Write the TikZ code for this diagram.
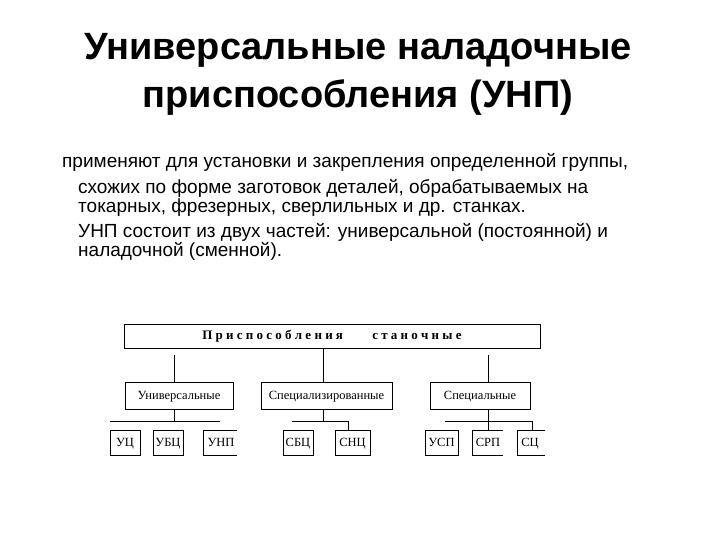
\documentclass[tikz,border=0pt]{standalone}
\usepackage{fontspec}
\setmainfont{Liberation Serif}
\newfontfamily\arial{Liberation Sans}
\begin{document}
\begin{tikzpicture}[x=1pt,y=-1pt,
 bx/.style={draw,line width=0.8pt},
 ln/.style={line width=0.8pt},
 lbl/.style={font=\fontsize{12.5}{14}\selectfont,text height=9pt,text depth=2pt,inner sep=0},
 body/.style={anchor=west,inner sep=0,font=\arial\fontsize{19}{20}\selectfont}]
\useasboundingbox (0,0) rectangle (720,540);
\node[font=\arial\bfseries\fontsize{38}{40}\selectfont] (t1) at (358,50) {Универсальные наладочные};
\node[font=\arial\bfseries\fontsize{38}{40}\selectfont] (t2) at (358,98) {приспособления (УНП)};
\node[body] (b1) at (62,162) {применяют для установки и закрепления определенной группы,};
\node[body] (b2) at (78,188) {схожих по форме заготовок деталей, обрабатываемых на};
\node[body] (b3) at (78,208) {токарных, фрезерных, сверлильных и др. станках.};
\node[body] (b4) at (78,232) {УНП состоит из двух частей: универсальной (постоянной) и};
\node[body] (b5) at (78,251) {наладочной (сменной).};
% top
\draw[bx] (124,324) rectangle (540,348);
\node[lbl,font=\bfseries\fontsize{13}{14}\selectfont] (top) at (332,336) {П р и с п о с о б л е н и я \quad\quad с т а н о ч н ы е};
% groups
\draw[bx] (125,382) rectangle (233,409); \node[lbl] (g1) at (179,395.5) {Универсальные};
\draw[bx] (261,382) rectangle (392,409); \node[lbl] (g2) at (326.5,395.5) {Специализированные};
\draw[bx] (430,382) rectangle (530,409); \node[lbl] (g3) at (480,395.5) {Специальные};
\draw[ln] (323,348) -- (323,382);
\draw[ln] (174,355) -- (174,382);
\draw[ln] (488,355) -- (488,382);
% lower connectors
\draw[ln] (174,409) -- (174,421); \draw[ln] (110,421) -- (220,421);
\draw[ln] (323,409) -- (323,421); \draw[ln] (292,421) -- (348,421) -- (348,430);
\draw[ln] (488,409) -- (488,430); \draw[ln] (445,421) -- (532,421) -- (532,430);
% leaves
\draw[bx] (110,430) rectangle (140,455); \node[lbl] (l1) at (125,442.5) {УЦ};
\draw[bx] (153,430) rectangle (183,455); \node[lbl] (l2) at (168,442.5) {УБЦ};
\draw[bx] (237,430) -- (203,430) -- (203,455) -- (237,455); \node[lbl] (l3) at (221,442.5) {УНП};
\draw[bx] (283,430) rectangle (313,455); \node[lbl] (l4) at (298,442.5) {СБЦ};
\draw[bx] (335,430) rectangle (370,455); \node[lbl] (l5) at (352.5,442.5) {СНЦ};
\draw[bx] (425,430) rectangle (458,455); \node[lbl] (l6) at (441.5,442.5) {УСП};
\draw[bx] (503,430) -- (472,430) -- (472,455) -- (503,455); \node[lbl] (l7) at (488,442.5) {СРП};
\draw[bx] (545,430) -- (517,430) -- (517,455) -- (545,455); \node[lbl] (l8) at (530,442.5) {СЦ};
\end{tikzpicture}
\end{document}
